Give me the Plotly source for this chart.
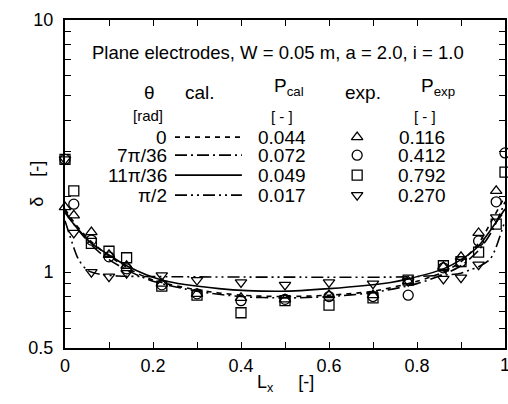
import plotly.graph_objects as go

# ---------------- data ----------------
x_exp = [0, 0.02, 0.06, 0.10, 0.14, 0.22, 0.30, 0.40, 0.50, 0.60, 0.70, 0.78, 0.86, 0.90, 0.94, 0.98, 1.0]
exp_tri_up = [1.81, 1.68, 1.44, 1.17, 1.06, 0.90, 0.82, 0.79, 0.78, 0.81, 0.81, 0.92, 1.05, 1.15, 1.43, 2.10, None]
exp_circle = [2.80, 1.86, 1.34, 1.15, 1.03, 0.89, 0.82, 0.77, 0.78, 0.80, 0.80, 0.81, 1.04, 1.10, 1.33, 1.90, 2.97]
exp_square = [2.80, 2.10, 1.30, 1.21, 1.14, 0.88, 0.81, 0.69, 0.77, 0.74, 0.79, 0.93, 1.06, 1.10, 1.20, 1.55, 2.49]
exp_tri_dn = [2.80, 1.43, 1.00, 0.96, 0.99, 0.97, 0.93, 0.91, 0.89, 0.91, 0.90, 0.92, 0.94, 0.95, 1.07, 1.65, None]

x_cal_a = [0, 0.02, 0.06, 0.10, 0.15, 0.20, 0.30, 0.40, 0.50, 0.60, 0.70, 0.80, 0.86, 0.90, 0.94, 0.97, 1.0]
cal_0 = [1.78, 1.58, 1.32, 1.16, 1.02, 0.93, 0.85, 0.81, 0.80, 0.81, 0.84, 0.92, 1.00, 1.10, 1.30, 1.60, 2.00]
cal_7 = [1.75, 1.55, 1.28, 1.12, 1.00, 0.92, 0.84, 0.80, 0.79, 0.80, 0.83, 0.90, 0.98, 1.06, 1.22, 1.45, 1.90]

x_cal_s = [0, 0.02, 0.06, 0.10, 0.14, 0.22, 0.35, 0.49, 0.60, 0.74, 0.78, 0.86, 0.90, 0.94, 0.965, 1.0]
cal_11 = [1.72, 1.55, 1.30, 1.17, 1.06, 0.93, 0.86, 0.84, 0.86, 0.91, 0.94, 1.03, 1.12, 1.27, 1.45, 1.78]

x_cal_p = [0, 0.02, 0.03, 0.05, 0.08, 0.12, 0.20, 0.50, 0.80, 0.90, 0.92, 0.94, 0.965, 0.977, 1.0]
cal_p2 = [1.60, 1.25, 1.13, 1.02, 0.98, 0.965, 0.96, 0.955, 0.96, 0.99, 1.02, 1.05, 1.12, 1.22, 1.60]

theta_labels = ["0", "7π/36", "11π/36", "π/2"]
p_cal = ["0.044", "0.072", "0.049", "0.017"]
p_exp = ["0.116", "0.412", "0.792", "0.270"]

x_ticks = [0, 0.2, 0.4, 0.6, 0.8, 1.0]
x_ticktext = ["0", "0.2", "0.4", "0.6", "0.8", "1"]
x_minor = [0.1, 0.3, 0.5, 0.7, 0.9]
y_ticks = [0.5, 1, 10]
y_ticktext = ["0.5", "1", "10"]
y_minor = [0.6, 0.7, 0.8, 0.9, 2, 3, 4, 5, 6, 7, 8, 9]

# ---------------- styles ----------------
FONT = "Liberation Sans, Arial, sans-serif"
dashes = ["5px,5px", "12px,4px,2px,4px", "solid", "12px,4px,2px,4px,2px,4px"]
symbols = ["triangle-up-open", "circle-open", "square-open", "triangle-down-open"]
LW = 1.6

fig = go.Figure()

cal_sets = [(x_cal_a, cal_0), (x_cal_a, cal_7), (x_cal_s, cal_11), (x_cal_p, cal_p2)]
for (xs, ys), d in zip(cal_sets, dashes):
    fig.add_trace(go.Scatter(x=xs, y=ys, mode="lines",
                             line=dict(color="black", width=LW, dash=d, shape="spline", smoothing=0.8),
                             showlegend=False, hoverinfo="skip"))

for ys, s in zip([exp_tri_up, exp_circle, exp_square, exp_tri_dn], symbols):
    fig.add_trace(go.Scatter(x=x_exp, y=ys, mode="markers",
                             marker=dict(symbol=s, size=10, color="black", line=dict(color="black", width=1.3)),
                             showlegend=False, cliponaxis=False))

# ---------------- in-plot legend table (overlay axes 0..1) ----------------
row_y = [0.643, 0.588, 0.527, 0.466]
for i, ry in enumerate(row_y):
    fig.add_trace(go.Scatter(x=[0.25, 0.402], y=[ry, ry], mode="lines", xaxis="x2", yaxis="y2",
                             line=dict(color="black", width=LW, dash=dashes[i]), showlegend=False, hoverinfo="skip"))
    fig.add_trace(go.Scatter(x=[0.664], y=[ry], mode="markers", xaxis="x2", yaxis="y2",
                             marker=dict(symbol=symbols[i], size=10, color="black", line=dict(color="black", width=1.3)),
                             showlegend=False, hoverinfo="skip"))

ann = []
def txt(x, y, t, size=19, xanchor="center"):
    ann.append(dict(x=x, y=y, xref="x2", yref="y2", text=t, showarrow=False, xanchor=xanchor, yanchor="middle",
                    font=dict(family=FONT, size=size, color="black")))

txt(0.485, 0.902, "Plane electrodes, W = 0.05 m, a = 2.0, i = 1.0", 18.5)
txt(0.193, 0.780, "θ", 19)
txt(0.307, 0.780, "cal.", 19)
txt(0.508, 0.797, "P<sub>cal</sub>", 19)
txt(0.677, 0.780, "exp.", 19)
txt(0.848, 0.797, "P<sub>exp</sub>", 19)
txt(0.189, 0.708, "[rad]", 15)
txt(0.493, 0.706, "[ - ]", 15)
txt(0.818, 0.706, "[ - ]", 15)
for i, ry in enumerate(row_y):
    txt(0.236, ry, theta_labels[i], 19, xanchor="right")
    txt(0.493, ry, p_cal[i], 19)
    txt(0.811, ry, p_exp[i], 19)

# axis titles
ann.append(dict(x=-0.064, y=0.5, xref="paper", yref="paper", text="δ    [-]", textangle=-90, showarrow=False,
                xanchor="center", yanchor="middle", font=dict(family=FONT, size=18, color="black")))
ann.append(dict(x=0.5, y=-0.107, xref="paper", yref="paper", text="L<sub>x</sub>     [-]", showarrow=False,
                xanchor="center", yanchor="middle", font=dict(family=FONT, size=18, color="black")))
# last x tick label sits on the figure edge (plotly drops it), drawn as text
ann.append(dict(x=1.0, y=0, xref="paper", yref="paper", yshift=-17, text=x_ticktext[-1], showarrow=False,
                xanchor="center", yanchor="middle", font=dict(family=FONT, size=18, color="black")))

axis_common = dict(showline=True, linecolor="black", linewidth=2, mirror="ticks", ticks="inside", ticklen=6,
                   tickwidth=1.3, tickcolor="black", showgrid=False, zeroline=False, automargin=False,
                   tickfont=dict(family=FONT, size=18, color="black"))
minor_common = dict(ticks="inside", ticklen=6, tickwidth=1.3, tickcolor="black", showgrid=False)

fig.update_layout(
    width=508, height=404,
    margin=dict(l=65, r=3, t=20, b=56),
    paper_bgcolor="white", plot_bgcolor="white",
    annotations=ann,
    xaxis=dict(range=[0, 1], tickmode="array", tickvals=x_ticks[:-1], ticktext=x_ticktext[:-1],
               minor=dict(tickvals=x_minor, **minor_common), **axis_common),
    yaxis=dict(type="log", range=[-0.30103, 1], tickmode="array", tickvals=y_ticks, ticktext=y_ticktext,
               minor=dict(tickvals=y_minor, **minor_common), ticklabelstandoff=6, **axis_common),
    xaxis2=dict(range=[0, 1], overlaying="x", visible=False, fixedrange=True),
    yaxis2=dict(range=[0, 1], overlaying="y", visible=False, fixedrange=True),
    showlegend=False,
)

fig.write_html("out.html", config={"displayModeBar": False},
               post_script="document.body.style.margin='0';document.body.style.overflow='hidden';")
